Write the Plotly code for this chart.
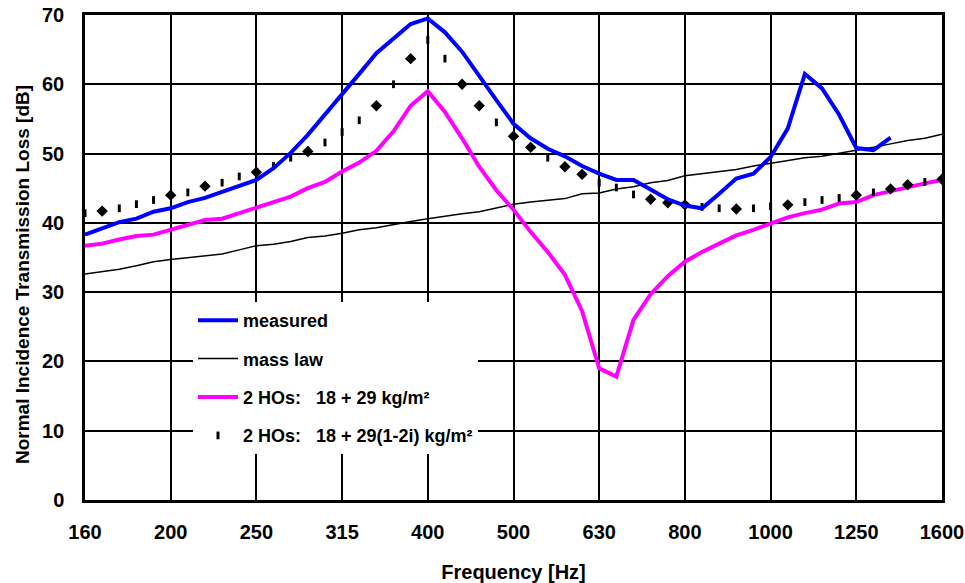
import math
import plotly.graph_objects as go

# x grid: 1/15-octave steps from 160 Hz (5 points per third-octave band)
band_labels = ["160", "200", "250", "315", "400", "500", "630", "800", "1000", "1250", "1600"]
freq = [160 * 2 ** (k / 15) for k in range(51)]
band_pos = [160 * 2 ** (k / 3) for k in range(11)]

measured = [38.3, 39.2, 40.1, 40.6, 41.6, 42.1, 43.0, 43.6, 44.5, 45.4,
            46.2, 47.9, 50.1, 52.7, 55.6, 58.4, 61.5, 64.5, 66.6, 68.7,
            69.5, 67.5, 64.7, 61.1, 57.7, 54.3, 52.2, 50.7, 49.6, 48.2,
            47.1, 46.2, 46.2, 44.8, 43.4, 42.5, 42.1, 44.2, 46.4, 47.1,
            49.5, 53.6, 61.5, 59.4, 55.6, 50.8, 50.5, 52.3]

mass_law = [32.6, 32.9, 33.3, 33.8, 34.4, 34.7, 35.0, 35.2, 35.5, 36.1,
            36.7, 36.9, 37.3, 37.9, 38.1, 38.5, 39.0, 39.3, 39.8, 40.2,
            40.6, 41.0, 41.3, 41.6, 42.2, 42.7, 43.0, 43.3, 43.5, 44.2,
            44.3, 44.9, 45.2, 45.8, 46.1, 46.8, 47.1, 47.4, 47.7, 48.2,
            48.6, 49.1, 49.4, 49.6, 50.0, 50.5, 50.9, 51.4, 51.9, 52.2, 52.8]

ho_real = [36.7, 37.0, 37.6, 38.1, 38.3, 39.0, 39.6, 40.4, 40.6, 41.4,
           42.1, 42.9, 43.8, 45.0, 45.9, 47.4, 48.7, 50.4, 53.2, 56.9,
           59.0, 56.0, 52.2, 48.1, 44.7, 41.9, 38.7, 35.8, 32.5, 27.3,
           19.0, 17.8, 26.0, 29.7, 32.3, 34.4, 35.8, 37.0, 38.2, 39.0,
           39.9, 40.8, 41.4, 41.9, 42.8, 43.0, 44.0, 44.6, 45.2, 45.7, 46.2]

ho_complex = [41.4, 41.7, 42.1, 42.7, 43.3, 44.0, 44.4, 45.3, 45.8, 46.7,
              47.3, 48.2, 49.4, 50.3, 51.6, 53.1, 54.8, 56.9, 60.0, 63.7,
              66.4, 63.7, 60.0, 56.9, 54.5, 52.5, 50.9, 49.4, 48.1, 47.0,
              45.8, 45.1, 44.1, 43.4, 42.9, 42.6, 42.3, 42.1, 42.0, 42.1,
              42.4, 42.6, 43.0, 43.3, 43.6, 44.0, 44.4, 44.9, 45.5, 45.9, 46.3]

# marker style of the dotted series (diamond where the original shows one)
diamond_idx = {1, 5, 7, 10, 13, 17, 19, 22, 23, 25, 26, 28, 29, 33, 34, 35, 38, 41, 45, 47, 48, 50}
symbols = ["diamond" if i in diamond_idx else "line-ns" for i in range(len(ho_complex))]
sizes = [5.5 if i in diamond_idx else 5.5 for i in range(len(ho_complex))]

FONT = "Liberation Sans, Arial, sans-serif"
NB = "\u00a0"

fig = go.Figure()
fig.add_trace(go.Scatter(x=freq[:len(mass_law)], y=mass_law, mode="lines", name="mass law",
                         line=dict(color="black", width=1.5), legendrank=2, legendgroup="b"))
fig.add_trace(go.Scatter(x=freq[:len(ho_real)], y=ho_real, mode="lines",
                         name="2 HOs:" + NB * 3 + "18 + 29 kg/m²",
                         line=dict(color="#FF00FF", width=4), legendrank=3, legendgroup="c"))
fig.add_trace(go.Scatter(x=freq[:len(ho_complex)], y=ho_complex, mode="markers",
                         name="2 HOs:" + NB * 3 + "18 + 29(1-2i) kg/m²",
                         marker=dict(symbol=symbols, size=sizes, color="black", opacity=1,
                                     line=dict(color="black", width=3)),
                         legendrank=4, legendgroup="d"))
fig.add_trace(go.Scatter(x=freq[:len(measured)], y=measured, mode="lines", name="measured",
                         line=dict(color="#0000FF", width=4), legendrank=1, legendgroup="a"))

L, R, T, B = 85, 23, 15, 83
W, H = 965, 583
pw, ph = W - L - R, H - T - B

fig.update_layout(
    width=W, height=H,
    margin=dict(l=L, r=R, t=T, b=B, autoexpand=False),
    paper_bgcolor="white", plot_bgcolor="white",
    font=dict(family=FONT, size=18, color="black"),
    showlegend=True,
    legend=dict(x=(193 - L) / pw, y=(500 - 302) / ph, xanchor="left", yanchor="top",
                bgcolor="white", borderwidth=0, traceorder="grouped", tracegroupgap=12,
                font=dict(family=FONT, size=18, color="black", weight="bold"),
                itemwidth=40),
    annotations=[dict(text="<b>Normal Incidence Transmission Loss [dB]</b>",
                      xref="paper", yref="paper", x=(22 - L) / pw, y=(500 - 275) / ph,
                      xanchor="center", yanchor="middle", textangle=-90, showarrow=False,
                      font=dict(family=FONT, size=19, color="black"))],
)
fig.update_xaxes(type="log", range=[math.log10(freq[0]), math.log10(freq[-1])],
                 tickvals=band_pos, ticktext=band_labels, automargin=False,
                 showgrid=True, gridcolor="black", gridwidth=1.5,
                 showline=True, linecolor="black", linewidth=2.5, mirror=True,
                 ticks="", ticklabelstandoff=12, ticklabeloverflow="allow",
                 tickfont=dict(family=FONT, size=20, weight="bold"),
                 title=dict(text="Frequency [Hz]", standoff=26,
                            font=dict(family=FONT, size=20, weight="bold")),
                 zeroline=False, fixedrange=True)
fig.update_yaxes(range=[0, 70], dtick=10, tick0=0, automargin=False,
                 showgrid=True, gridcolor="black", gridwidth=1.5,
                 showline=True, linecolor="black", linewidth=2.5, mirror=True,
                 ticks="", ticklabelstandoff=14, ticklabeloverflow="allow",
                 tickfont=dict(family=FONT, size=20, weight="bold"),
                 zeroline=False, fixedrange=True)

fig.write_html("out.html", config={"displayModeBar": False},
               post_script="document.body.style.margin='0';")
